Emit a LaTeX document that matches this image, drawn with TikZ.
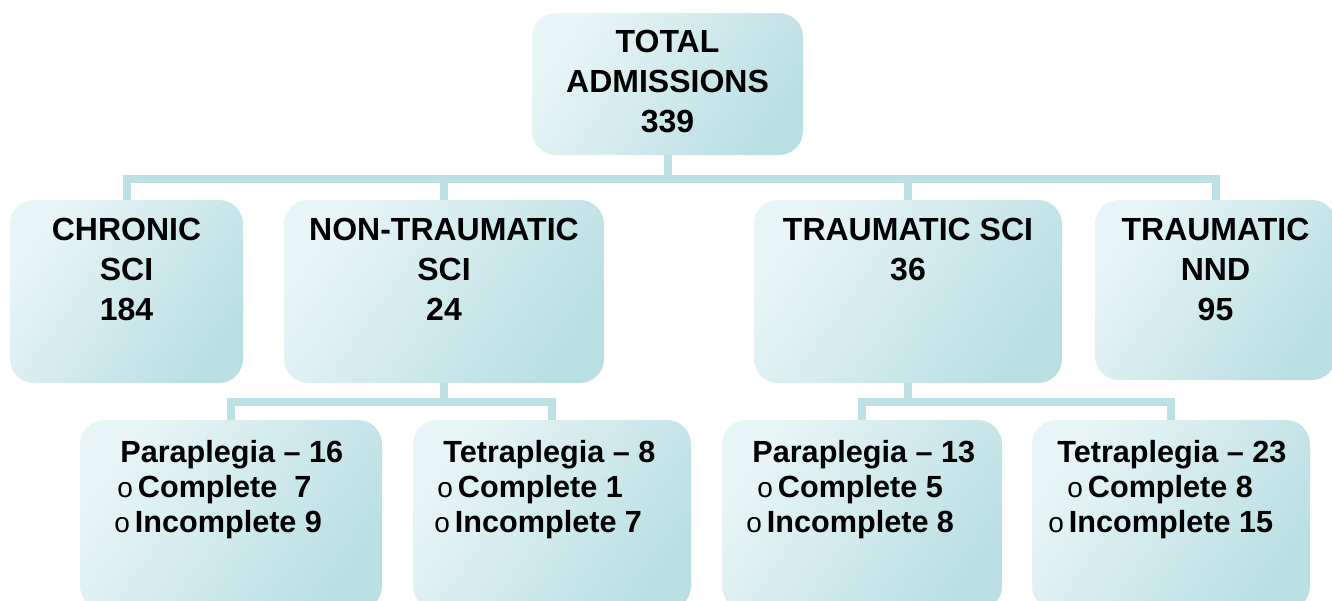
\documentclass[tikz,border=0pt]{standalone}
\usepackage{fontspec}
\setmainfont{Liberation Sans}
\usetikzlibrary{fit}
\definecolor{boxlight}{RGB}{232,245,246}
\definecolor{boxdark}{RGB}{186,223,227}
\definecolor{linkcol}{RGB}{188,224,228}
\tikzset{
  orgbox/.style={rounded corners=12pt, inner sep=0pt, top color=boxlight, bottom color=boxdark, shading angle=55},
  link/.style={draw=linkcol, line width=4pt},
  headtxt/.style={anchor=north, inner sep=0pt, align=center, font=\bfseries\fontsize{16}{20}\selectfont},
  subtxt/.style={anchor=north west, inner sep=0pt, align=left, font=\bfseries\fontsize{15.3}{17.5}\selectfont}
}
\newcommand{\bul}{{\mdseries\fontsize{14}{14}\selectfont o}\hspace{2.5pt}}
\begin{document}
\begin{tikzpicture}[x=0.5pt,y=-0.5pt]
\useasboundingbox (0,0) rectangle (1332,600);
\clip (0,0) rectangle (1332,600);
% boxes, given by their corners in pixels
\node[orgbox, fit={(532,13) (803,155)}] (tot) {};
\node[orgbox, fit={(10,200) (243,383)}] (chr) {};
\node[orgbox, fit={(284,200) (604,383)}] (nts) {};
\node[orgbox, fit={(754,200) (1062,383)}] (tsci) {};
\node[orgbox, fit={(1095,200) (1336,380)}] (tnnd) {};
\node[orgbox, fit={(80,420) (382,610)}] (p16) {};
\node[orgbox, fit={(413,420) (691,610)}] (t8) {};
\node[orgbox, fit={(722,420) (1002,610)}] (p13) {};
\node[orgbox, fit={(1032,420) (1310,610)}] (t23) {};
% connectors
\coordinate (bus) at (0,179);
\coordinate (nbus) at (0,402);
\draw[link] (tot.south) -- (tot.south |- bus);
\draw[link] (chr.north) -- (chr.north |- bus) -- (tnnd.north |- bus) -- (tnnd.north);
\foreach \n in {nts,tsci} {\draw[link] (\n.north |- bus) -- (\n.north);}
\draw[link] (nts.south) -- (nts.south |- nbus);
\draw[link] (p16.north) -- (p16.north |- nbus) -- (t8.north |- nbus) -- (t8.north);
\draw[link] (tsci.south) -- (tsci.south |- nbus);
\draw[link] (p13.north) -- (p13.north |- nbus) -- (t23.north |- nbus) -- (t23.north);
% texts
\node[headtxt] (tot-t) at ([yshift=-8.5pt]tot.north) {TOTAL\\ADMISSIONS\\339};
\node[headtxt] (chr-t) at ([yshift=-9pt]chr.north) {CHRONIC\\SCI\\184};
\node[headtxt] (nts-t) at ([yshift=-9pt]nts.north) {NON-TRAUMATIC\\SCI\\24};
\node[headtxt] (tsci-t) at ([yshift=-9pt]tsci.north) {TRAUMATIC SCI\\36};
\node[headtxt] (tnnd-t) at ([yshift=-9pt]tnnd.north) {TRAUMATIC\\NND\\95};
\node[subtxt] (p16-t) at (114,440) {\hspace*{3pt}Paraplegia – 16\\\hspace*{1.5pt}\bul Complete~~7\\\bul Incomplete 9};
\node[subtxt] (t8-t) at (434,440) {\hspace*{4.5pt}Tetraplegia – 8\\\hspace*{1.5pt}\bul Complete 1\\\bul Incomplete 7};
\node[subtxt] (p13-t) at (746,440) {\hspace*{3pt}Paraplegia – 13\\\hspace*{5.5pt}\bul Complete 5\\\bul Incomplete 8};
\node[subtxt] (t23-t) at (1048,440) {\hspace*{4.5pt}Tetraplegia – 23\\\hspace*{9.5pt}\bul Complete 8\\\bul Incomplete 15};
\end{tikzpicture}
\end{document}
